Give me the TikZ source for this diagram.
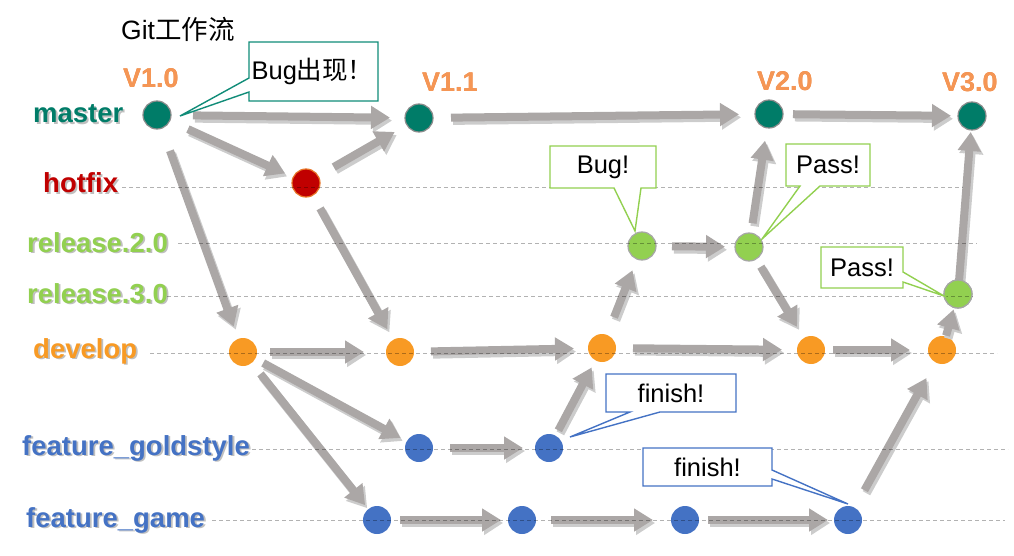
\documentclass[tikz,border=0pt]{standalone}
\usepackage{fontspec}
\usepackage[outline]{contour}
\setmainfont{Liberation Sans}
\newfontfamily\cjk{Noto Sans CJK SC}
\usetikzlibrary{arrows.meta,calc}
\definecolor{cMaster}{RGB}{0,124,104}
\definecolor{cHot}{RGB}{192,0,0}
\definecolor{cRel}{RGB}{146,208,80}
\definecolor{cDev}{RGB}{248,154,36}
\definecolor{cFeat}{RGB}{68,114,196}
\definecolor{cVer}{RGB}{232,118,40}
\definecolor{cVerIn}{RGB}{245,150,85}
\definecolor{cArrow}{RGB}{171,167,166}
\definecolor{cTealLine}{RGB}{16,140,120}
\contourlength{1.3pt}
\tikzset{
  commit/.style={circle, minimum size=28pt, inner sep=0pt, outer sep=0pt},
  mnode/.style={commit, fill=cMaster, draw=black!45, line width=1.2pt},
  hnode/.style={commit, fill=cHot, draw=cVer, line width=1.2pt},
  rnode/.style={commit, fill=cRel, draw=black!35, line width=1.2pt},
  dnode/.style={commit, fill=cDev},
  fnode/.style={commit, fill=cFeat},
  arrowbody/.style={draw=cArrow, line width=8pt, -{Triangle[width=22pt,length=19pt]}},
  arrowshade/.style={draw=black!20, line width=8.5pt, -{Triangle[width=23pt,length=19pt]},
    transform canvas={xshift=2pt,yshift=-3pt}},
  guide/.style={draw=black, opacity=0.3, line width=0.9pt, dash pattern=on 4pt off 3pt},
  lab/.style={font=\fontsize{27.5}{32}\selectfont\bfseries, anchor=base west, inner sep=0pt},
  ver/.style={font=\fontsize{27}{32}\selectfont\bfseries, anchor=base west, inner sep=0pt},
  callbox/.style={inner sep=0pt, outer sep=0pt, font=\fontsize{25.5}{30}\selectfont},
  callline/.style={fill=white, line width=1.4pt, line join=miter},
}
\newcommand\brlabel[4]{%
  \node[lab, text=black, opacity=.25, xshift=1.8pt, yshift=-1.8pt] at (#2) {#4};
  \node[lab, text=#3] (#1) at (#2) {#4};}
\newcommand\garr[4]{%
  \draw[arrowshade, shorten <=#3pt, shorten >=#4pt] (#1) -- (#2);
  \draw[arrowbody, shorten <=#3pt, shorten >=#4pt] (#1) -- (#2);}
\newcommand\vtext[1]{\contour{cVer}{\textcolor{cVerIn}{#1}}}
\begin{document}
\begin{tikzpicture}[x=1pt,y=-1pt]
\useasboundingbox (0,0) rectangle (1014,556);
% commits
\node[mnode] (m1) at (157,115) {};
\node[mnode] (m2) at (419,118) {};
\node[mnode] (m3) at (769,114) {};
\node[mnode] (m4) at (972,116) {};
\node[hnode] (h) at (306,183) {};
\node[rnode] (r2a) at (642,246) {};
\node[rnode] (r2b) at (749,247) {};
\node[rnode] (r3) at (958,294) {};
\node[dnode] (d1) at (243,352) {};
\node[dnode] (d2) at (400,352) {};
\node[dnode] (d3) at (602,348) {};
\node[dnode] (d4) at (811,350) {};
\node[dnode] (d5) at (942,350) {};
\node[fnode] (g1) at (419,448) {};
\node[fnode] (g2) at (549,448) {};
\node[fnode] (f1) at (377,520) {};
\node[fnode] (f2) at (522,520) {};
\node[fnode] (f3) at (685,520) {};
\node[fnode] (f4) at (848,520) {};
% arrows
\garr{m1}{m2}{22}{15}
\garr{m1}{h}{20}{9}
\garr{h}{m2}{18}{14}
\garr{m1}{d1}{24}{13}
\garr{h}{d2}{15}{12}
\garr{d1}{d2}{13}{22}
\garr{d2}{d3}{17}{14}
\garr{d1}{g1}{9}{7}
\garr{d1}{f1}{14}{5}
\garr{g1}{g2}{17}{12}
\garr{g2}{d3}{6}{8}
\garr{d3}{r2a}{19}{12}
\garr{r2a}{r2b}{16}{10}
\garr{r2b}{m3}{10}{13}
\garr{m2}{m3}{18}{16}
\garr{m3}{m4}{10}{7}
\garr{r2b}{d4}{9}{13}
\garr{d3}{d4}{17}{15}
\garr{d4}{d5}{8}{18}
\garr{f1}{f2}{9}{7}
\garr{f2}{f3}{15}{18}
\garr{f3}{f4}{9}{6}
\garr{f4}{d5}{20}{18}
\garr{d5}{r3}{1}{2}
\garr{r3}{m4}{0}{2}
% redraw node touched by short arrows
\node[rnode] at (r3) {};
% guide lines
\draw[guide] (122,187) -- (963,187);
\draw[guide] (178,243) -- (977,243);
\draw[guide] (167,296) -- (973,296);
\draw[guide] (150,353) -- (997,353);
\draw[guide] (252,449) -- (1008,449);
\draw[guide] (212,520) -- (1005,520);
% branch labels
\brlabel{lmaster}{33,123}{cMaster}{master}
\brlabel{lhot}{43,193}{cHot}{hotfix}
\brlabel{lrel2}{27,252}{cRel}{release.2.0}
\brlabel{lrel3}{27,303}{cRel}{release.3.0}
\brlabel{ldev}{33,358}{cDev}{develop}
\brlabel{lgold}{22,455}{cFeat}{feature\_goldstyle}
\brlabel{lgame}{26,527}{cFeat}{feature\_game}
% version labels
\node[ver] (v10) at (123,88) {\vtext{V1.0}};
\node[ver] (v11) at (422,92) {\vtext{V1.1}};
\node[ver] (v20) at (757,91) {\vtext{V2.0}};
\node[ver] (v30) at (942,92) {\vtext{V3.0}};
% title
\node[anchor=base west, inner sep=0pt, font=\fontsize{26.5}{30}\selectfont] (title) at (121,40) {Git{\cjk 工作流}};
% callouts
\node[callbox, minimum width=129pt, minimum height=59pt] (c1) at (313.5,71.5) {};
\coordinate (t1) at (180,116);
\draw[callline, draw=cTealLine] (c1.north west) -- (c1.north east) -- (c1.south east) -- (c1.south west)
  -- ($(c1.south west)+(0,-9)$) -- (t1) -- ($(c1.south west)+(0,-23)$) -- cycle;
\node[callbox, xshift=-1pt] at (c1) {Bug{\cjk 出现！}};

\node[callbox, minimum width=106pt, minimum height=42pt] (c2) at (603,167) {};
\coordinate (t2) at (635,231);
\draw[callline, draw=cRel] (c2.north west) -- (c2.north east) -- (c2.south east)
  -- ($(c2.south west)+(91,0)$) -- (t2) -- ($(c2.south west)+(64,0)$) -- (c2.south west) -- cycle;
\node[callbox] at (c2) {Bug!};

\node[callbox, minimum width=84pt, minimum height=42pt] (c3) at (828,165) {};
\coordinate (t3) at (762,239);
\draw[callline, draw=cRel] (c3.north west) -- (c3.north east) -- (c3.south east)
  -- ($(c3.south west)+(34,0)$) -- (t3) -- ($(c3.south west)+(14,0)$) -- (c3.south west) -- cycle;
\node[callbox] at (c3) {Pass!};

\node[callbox, minimum width=82pt, minimum height=41pt] (c4) at (862,267.5) {};
\coordinate (t4) at (944,296);
\draw[callline, draw=cRel] (c4.north west) -- (c4.north east) -- ($(c4.north east)+(0,25)$)
  -- (t4) -- ($(c4.north east)+(0,35)$) -- (c4.south east) -- (c4.south west) -- cycle;
\node[callbox] at (c4) {Pass!};

\node[callbox, minimum width=130pt, minimum height=38pt] (c5) at (671,393) {};
\coordinate (t5) at (570,437);
\draw[callline, draw=cFeat] (c5.north west) -- (c5.north east) -- (c5.south east)
  -- ($(c5.south west)+(54,0)$) -- (t5) -- ($(c5.south west)+(24,0)$) -- (c5.south west) -- cycle;
\node[callbox] at (c5) {finish!};

\node[callbox, minimum width=129pt, minimum height=38pt] (c6) at (707.5,467) {};
\coordinate (t6) at (848,504);
\draw[callline, draw=cFeat] (c6.north west) -- (c6.north east) -- ($(c6.north east)+(0,22)$)
  -- (t6) -- ($(c6.north east)+(0,31)$) -- (c6.south east) -- (c6.south west) -- cycle;
\node[callbox] at (c6) {finish!};
\end{tikzpicture}
\end{document}
